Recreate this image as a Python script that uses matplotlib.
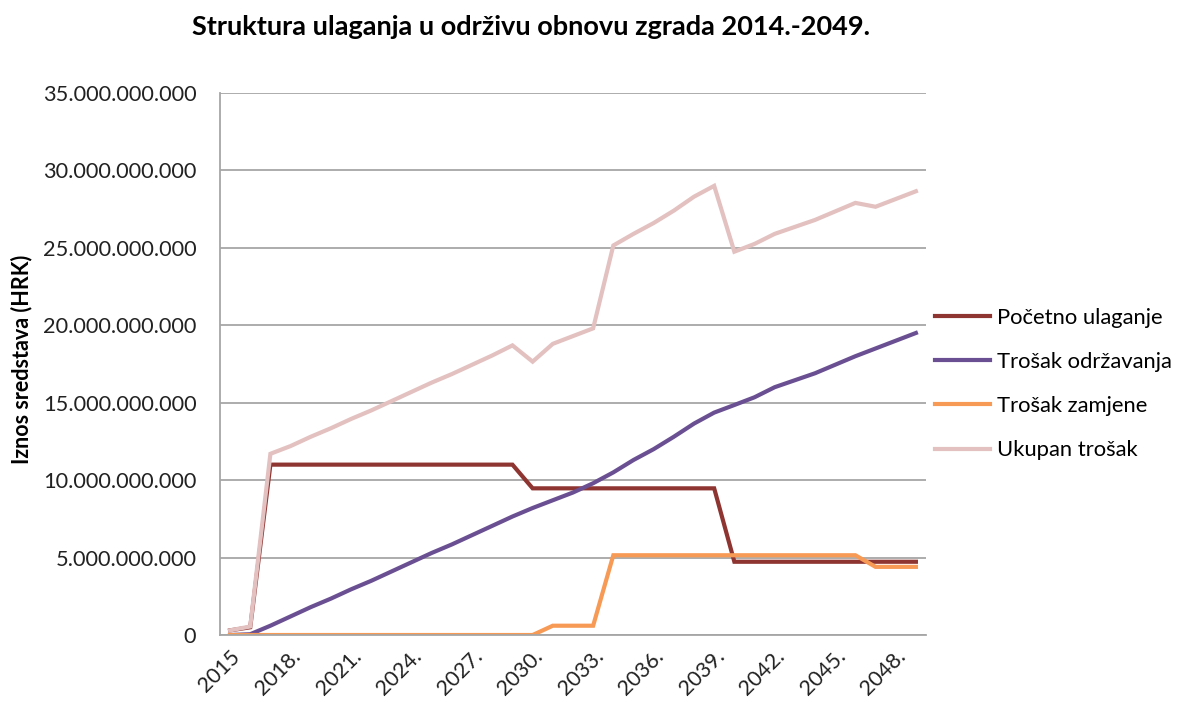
import numpy as np
import matplotlib.pyplot as plt

plt.rcParams['font.family'] = ['Lato', 'DejaVu Sans']

# years 2015-2049 (first label has no trailing dot in the source)
years = ['2015'] + [str(y) + '.' for y in range(2016, 2050)]

# values in billions of HRK
pocetno = [0.3, 0.5, 11.0, 11.0, 11.0, 11.0, 11.0, 11.0, 11.0, 11.0, 11.0, 11.0, 11.0, 11.0, 11.0,
           9.47, 9.47, 9.47, 9.47, 9.47, 9.47, 9.47, 9.47, 9.47, 9.47,
           4.73, 4.73, 4.73, 4.73, 4.73, 4.73, 4.73, 4.73, 4.73, 4.73]
odrzavanje = [0.0, 0.05, 0.6, 1.2, 1.8, 2.35, 2.95, 3.5, 4.1, 4.7, 5.3, 5.85, 6.45, 7.05, 7.65,
              8.2, 8.7, 9.2, 9.8, 10.5, 11.3, 12.0, 12.8, 13.65, 14.36,
              14.85, 15.35, 16.0, 16.45, 16.9, 17.45, 18.0, 18.5, 19.0, 19.5]
zamjena = [0.0] * 16 + [0.6, 0.6, 0.6] + [5.15] * 13 + [4.4, 4.4, 4.4]
ukupno = [0.3, 0.55, 11.7, 12.2, 12.8, 13.35, 13.95, 14.5, 15.1, 15.7, 16.3, 16.85, 17.45, 18.05, 18.7,
          17.65, 18.8, 19.3, 19.8, 25.15, 25.9, 26.6, 27.4, 28.3, 29.0,
          24.75, 25.25, 25.9, 26.35, 26.8, 27.35, 27.9, 27.65, 28.15, 28.65]

series = [
    ('Početno ulaganje', pocetno, '#8E3431'),
    ('Trošak održavanja', odrzavanje, '#6A5092'),
    ('Trošak zamjene', zamjena, '#F79A55'),
    ('Ukupan trošak', ukupno, '#E3C1C0'),
]

fig = plt.figure(figsize=(11.82, 7.04), dpi=100)
ax = fig.add_axes([0.1861, 0.098, 0.5973, 0.770])

x = np.arange(len(years))
for name, vals, col in series:
    ax.plot(x, np.array(vals) * 1e9, color=col, lw=3.0, label=name, solid_joinstyle='miter')

ax.set_xlim(-0.5, len(years) - 0.5)
ax.set_ylim(0, 35e9)
yt = np.arange(0, 35.1e9, 5e9)
ax.set_yticks(yt)
ax.set_yticklabels(['0'] + ['{:,.0f}'.format(v).replace(',', '.') for v in yt[1:]], fontsize=15.7,
                   color='#222222')
ax.set_xticks(x[::3])
ax.set_xticklabels(years[::3], rotation=45, ha='right', rotation_mode='anchor', fontsize=15.5,
                   color='#222222')
ax.tick_params(axis='y', length=0, pad=17)
ax.tick_params(axis='x', length=0, pad=8)

ax.grid(axis='y', color='#A6A6A6', lw=1.3)
ax.set_axisbelow(True)
for s in ['top', 'right']:
    ax.spines[s].set_visible(False)
for s in ['left', 'bottom']:
    ax.spines[s].set_color('#A6A6A6')
    ax.spines[s].set_linewidth(1.3)

fig.text(22 / 1182, 0.489, 'Iznos sredstava (HRK)', rotation=90, ha='center', va='center',
         fontsize=15.5, fontweight='bold')
fig.text(0.449, 0.962, 'Struktura ulaganja u održivu obnovu zgrada 2014.-2049.',
         ha='center', va='center', fontsize=19.5, fontweight='bold')

fig.legend(loc='center left', bbox_to_anchor=(0.7745, 0.4545), frameon=False, fontsize=15.8,
           handlelength=2.5, handletextpad=0.3, labelspacing=1.1)

fig.savefig('out.png', dpi=100)
